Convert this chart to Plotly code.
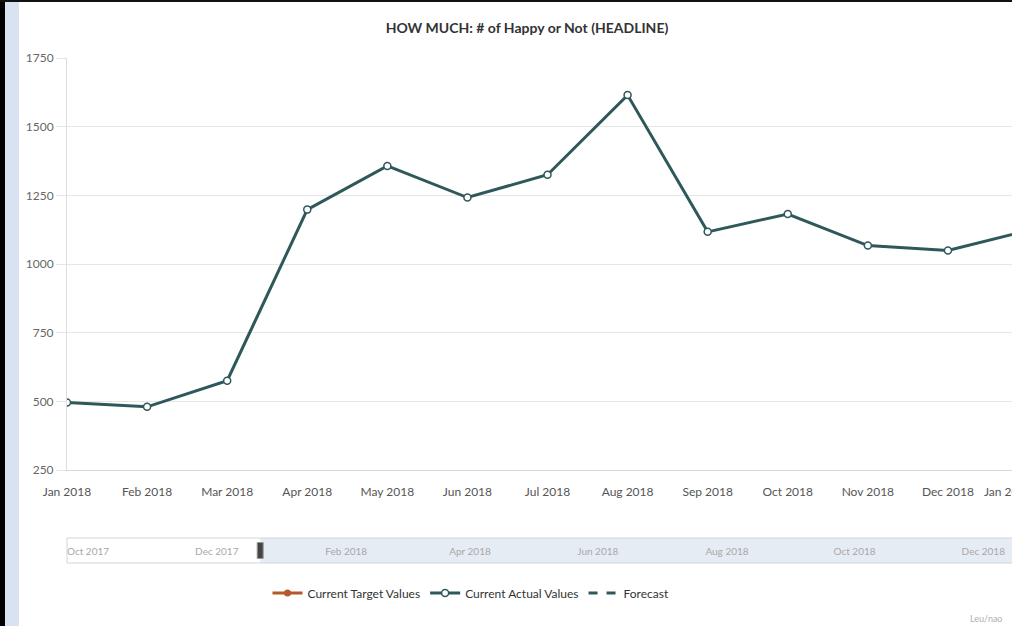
import plotly.graph_objects as go

# ---- data ----
months = ["Jan 2018", "Feb 2018", "Mar 2018", "Apr 2018", "May 2018", "Jun 2018",
          "Jul 2018", "Aug 2018", "Sep 2018", "Oct 2018", "Nov 2018", "Dec 2018", "Jan 2019"]
actual_values = [496, 480, 575, 1198, 1357, 1242, 1325, 1615, 1117, 1182, 1067, 1049, 1122]
target_values = [None]
forecast_values = [None]
y_ticks = [250, 500, 750, 1000, 1250, 1500, 1750]
nav_range = ["2017-10-01", "2018-12-25"]
nav_selected_start = "2018-01-01"

title_text = "HOW MUCH: # of Happy or Not (HEADLINE)"
FONT = "Lato"
LINE = "#2E5859"
ORANGE = "#B4592E"

fig = go.Figure()

fig.add_trace(go.Scatter(
    x=[months[0]], y=target_values, name="Current Target Values",
    mode="lines+markers", line=dict(color=ORANGE, width=3),
    marker=dict(color=ORANGE, size=7, symbol="circle"),
))
fig.add_trace(go.Scatter(
    x=months, y=actual_values, name="Current Actual Values",
    mode="lines+markers", line=dict(color=LINE, width=3),
    marker=dict(color="white", size=7, line=dict(color=LINE, width=1.5)),
))
fig.add_trace(go.Scatter(
    x=[months[0]], y=forecast_values, name="Forecast",
    mode="lines", line=dict(color=LINE, width=3, dash="dash"),
))

# navigator axis (invisible trace to activate it)
fig.add_trace(go.Scatter(
    x=nav_range, y=[0, 0], xaxis="x2", yaxis="y2", mode="lines",
    line=dict(color="rgba(0,0,0,0)", width=0), showlegend=False, hoverinfo="skip",
))

W, H = 1012, 626
ml, mr, mt, mb = 67, 0, 58, 63
ph = H - mt - mb
pw = W - ml - mr

def px_x(p):
    return (p - ml) / pw

def px_y(p):
    return (H - mb - p) / ph

main_bottom = px_y(470)

fig.update_layout(
    width=W, height=H,
    margin=dict(l=ml, r=mr, t=mt, b=mb),
    paper_bgcolor="white", plot_bgcolor="white",
    font=dict(family=FONT, size=12, color="#555555"),
    title=dict(text=title_text, x=527 / W, xanchor="center", xref="container",
               y=1 - 28 / H, yanchor="middle", yref="container",
               font=dict(family=FONT, size=14, color="#333333", weight="bold")),
    xaxis=dict(type="category", range=[0, 11.8], domain=[0, 1], anchor="y",
               showgrid=False, showline=True, linecolor="#d8d8d8", linewidth=1,
               ticks="outside", ticklen=11, tickcolor="rgba(0,0,0,0)",
               tickfont=dict(family=FONT, size=12, color="#555555"),
               zeroline=False, fixedrange=True),
    yaxis=dict(domain=[main_bottom, 1], range=[250, 1750], tickvals=y_ticks,
               showgrid=True, gridcolor="#e6e6e6", gridwidth=1,
               showline=True, linecolor="#dddddd", linewidth=1,
               ticks="outside", ticklen=10, tickcolor="#e6e6e6",
               tickfont=dict(family=FONT, size=12, color="#666666"),
               zeroline=False),
    xaxis2=dict(type="date", range=nav_range, domain=[0, 1], anchor="y2",
                tick0="2017-10-01", dtick="M2", tickformat="%b %Y",
                ticklabelposition="inside right", ticks="", showgrid=False,
                showline=False, zeroline=False,
                tickfont=dict(family=FONT, size=10, color="#a8a8a8")),
    yaxis2=dict(domain=[0, 25 / ph], range=[0, 1], showgrid=False, showline=False,
                showticklabels=False, zeroline=False, ticks=""),
    showlegend=True,
    legend=dict(orientation="h", x=px_x(471), xanchor="center",
                y=px_y(593), yanchor="middle",
                font=dict(family=FONT, size=12, color="#333333"),
                bgcolor="rgba(0,0,0,0)", itemwidth=30),
)

shapes = []
# left black border and light-blue strip, top black line
shapes.append(dict(type="rect", xref="paper", yref="paper",
                   x0=px_x(0), x1=px_x(5), y0=px_y(626), y1=px_y(0),
                   fillcolor="#000000", line=dict(width=0), layer="above"))
shapes.append(dict(type="rect", xref="paper", yref="paper",
                   x0=px_x(5), x1=px_x(19), y0=px_y(626), y1=px_y(0),
                   fillcolor="#d9e2f3", line=dict(width=0), layer="above"))
shapes.append(dict(type="rect", xref="paper", yref="paper",
                   x0=px_x(0), x1=px_x(1012), y0=px_y(2), y1=px_y(0),
                   fillcolor="#111111", line=dict(width=0), layer="above"))
# navigator: selected zone shading
shapes.append(dict(type="rect", xref="x2", yref="y2 domain",
                   x0=nav_selected_start, x1=nav_range[1], y0=0, y1=1,
                   fillcolor="#e6ecf4", line=dict(width=0), layer="below"))
# navigator outline
shapes.append(dict(type="rect", xref="paper", yref="y2 domain",
                   x0=0, x1=1.01, y0=0, y1=1,
                   fillcolor="rgba(0,0,0,0)", line=dict(color="#cfd5dd", width=1)))
# navigator handle
shapes.append(dict(type="rect", xref="x2", yref="y2 domain",
                   xsizemode="pixel", xanchor=nav_selected_start, x0=-3, x1=3,
                   y0=0.18, y1=0.82,
                   fillcolor="#444444", line=dict(color="#999999", width=1)))
fig.update_layout(shapes=shapes)

fig.add_annotation(text=months[-1], xref="paper", yref="paper",
                   x=px_x(982), xanchor="left", y=px_y(491), yanchor="middle",
                   showarrow=False, font=dict(family=FONT, size=12, color="#555555"))
fig.add_annotation(text="Leu/nao", xref="paper", yref="paper",
                   x=px_x(968), xanchor="left", y=px_y(618), yanchor="middle",
                   showarrow=False, font=dict(family=FONT, size=9, color="#b0b0b0"))

fig.write_html("out.html", config={"displayModeBar": False},
               post_script="document.body.style.margin='0px';")
